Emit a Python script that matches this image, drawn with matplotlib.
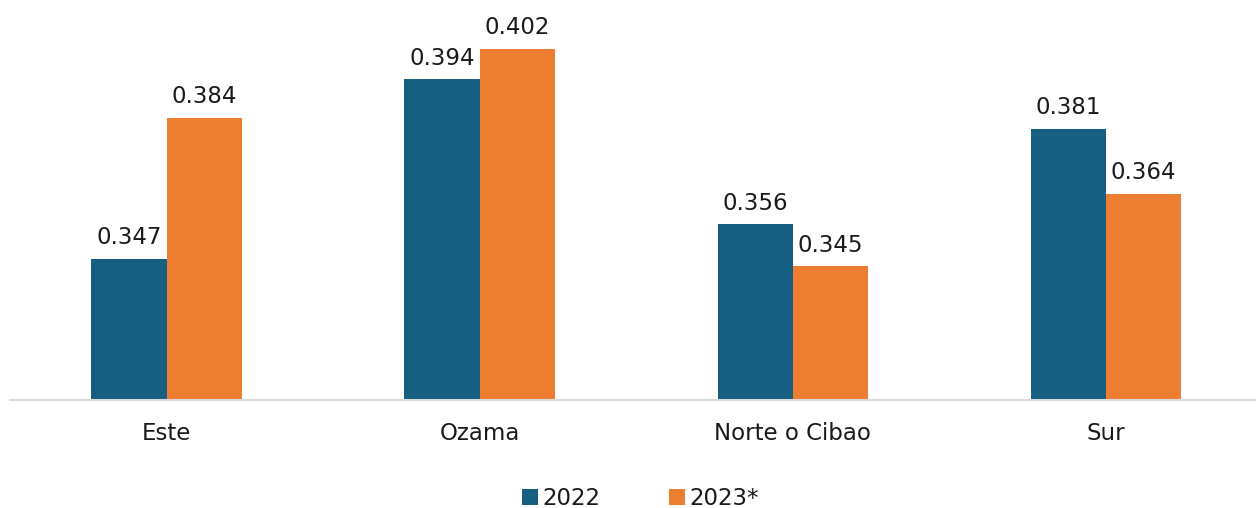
import matplotlib
matplotlib.use("Agg")
import matplotlib.pyplot as plt
import numpy as np

regiones = ["Este", "Ozama", "Norte o Cibao", "Sur"]
v2022 = [0.347, 0.394, 0.356, 0.381]
v2023 = [0.384, 0.402, 0.345, 0.364]
series = ["2022", "2023*"]

azul = "#175f81"
naranja = "#ed7d31"

plt.rcParams["font.family"] = ["DejaVu Sans"]

fig = plt.figure(figsize=(12.56, 5.08), dpi=100)
ax = fig.add_axes([10/1256, 108/508, 1246/1256, 400/508])

x = np.arange(len(regiones))
w = 0.24
b1 = ax.bar(x - w/2, v2022, w, color=azul, label=series[0])
b2 = ax.bar(x + w/2, v2023, w, color=naranja, label=series[1])

for bars, vals in ((b1, v2022), (b2, v2023)):
    for r, v in zip(bars, vals):
        ax.annotate(f"{v:.3f}", (r.get_x() + r.get_width()/2, v),
                    xytext=(0, 7), textcoords="offset points",
                    ha="center", va="bottom", fontsize=16.5, color="#1a1a1a")

ax.set_ylim(0.31, 0.4148)
ax.set_xlim(-0.5, 3.48)
ax.set_yticks([])
ax.set_xticks(x)
ax.set_xticklabels(regiones, fontsize=16.5, color="#1a1a1a")
ax.tick_params(axis="x", length=0, pad=16)
for s in ["top", "right", "left"]:
    ax.spines[s].set_visible(False)
ax.spines["bottom"].set_color("#d9d9d9")
ax.spines["bottom"].set_linewidth(1.5)

fig.legend(loc="lower center", bbox_to_anchor=(0.51, -0.022), ncol=2, frameon=False,
           fontsize=16.5, handlelength=0.7, handleheight=0.7, handletextpad=0.2,
           columnspacing=3.0, labelcolor="#1a1a1a", borderaxespad=0)

fig.savefig("out.png", dpi=100)
